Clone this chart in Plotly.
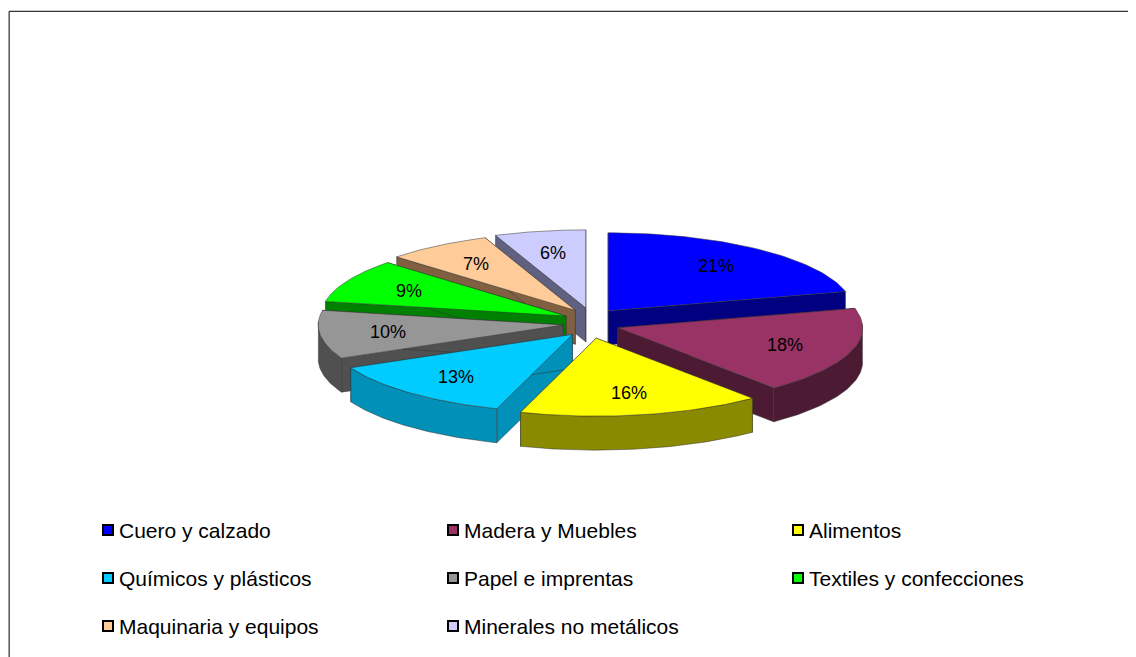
import numpy as np
import plotly.graph_objects as go

labels = ["Cuero y calzado", "Madera y Muebles", "Alimentos", "Químicos y plásticos",
          "Papel e imprentas", "Textiles y confecciones", "Maquinaria y equipos",
          "Minerales no metálicos"]
values = [21, 18, 16, 13, 10, 9, 7, 6]
colors = ["#0000FF", "#993366", "#FFFF00", "#00CCFF", "#969696", "#00FF00", "#FFCC99", "#CCCCFF"]
sides = ["#000080", "#4d1a33", "#8a8a00", "#0090b8", "#505050", "#008000", "#806040", "#606080"]

cx, cy, rx, ry, depth, pull = 583, 315, 245, 78, 34, 28

def pt(t, r=1.0, off=(0, 0)):
    return off[0] + cx + r * rx * np.sin(t), off[1] + cy - r * ry * np.cos(t)

total = sum(values)
slices = []
a = 0.0
for i, v in enumerate(values):
    a1 = a + 2 * np.pi * v / total
    mid = (a + a1) / 2
    off = (pull * np.sin(mid), -pull * 0.55 * np.cos(mid))
    slices.append((i, a, a1, mid, off))
    a = a1

fig = go.Figure()
order = sorted(slices, key=lambda s: -np.cos(s[3]))
for i, a0, a1, mid, off in order:
    t = np.linspace(a0, a1, 60)
    ox, oy = off
    c = (cx + ox, cy + oy)
    # radial faces
    for ang in (a0, a1):
        ex, ey = pt(ang, off=off)
        fig.add_trace(go.Scatter(x=[c[0], ex, ex, c[0], c[0]], y=[c[1], ey, ey + depth, c[1] + depth, c[1]],
                                 fill="toself", fillcolor=sides[i], mode="lines",
                                 line=dict(color="#333", width=0.5), showlegend=False, hoverinfo="skip"))
    # outer wall (front part)
    tw = t[np.cos(t) < 0.05]
    if len(tw) > 1:
        xs, ys = pt(tw, off=off)
        fig.add_trace(go.Scatter(x=list(xs) + list(xs[::-1]) + [xs[0]],
                                 y=list(ys) + list((ys + depth)[::-1]) + [ys[0]],
                                 fill="toself", fillcolor=sides[i], mode="lines",
                                 line=dict(color="#333", width=0.5), showlegend=False, hoverinfo="skip"))
    # top face
    xs, ys = pt(t, off=off)
    fig.add_trace(go.Scatter(x=[c[0]] + list(xs) + [c[0]], y=[c[1]] + list(ys) + [c[1]],
                             fill="toself", fillcolor=colors[i], mode="lines",
                             line=dict(color="#333", width=0.5), showlegend=False, hoverinfo="skip"))

for i, a0, a1, mid, off in slices:
    lx, ly = pt(mid, 0.72, off)
    fig.add_annotation(x=lx, y=ly, text=f"{values[i]}%", showarrow=False,
                       font=dict(size=18, color="black", family="Liberation Sans, Arial"))

# legend: 3 columns, drawn manually
lx0 = [100 + 345 * (k % 3) for k in range(len(labels))]
ly0 = [522 + 48 * (k // 3) for k in range(len(labels))]
fig.add_trace(go.Scatter(x=lx0, y=ly0, mode="markers", showlegend=False, hoverinfo="skip",
                         marker=dict(symbol="square", size=10, color=colors,
                                     line=dict(color="black", width=2))))
for k, lab in enumerate(labels):
    fig.add_annotation(x=lx0[k] + 9, y=ly0[k], text=lab, showarrow=False, xanchor="left",
                       font=dict(size=21, color="black", family="Liberation Sans, Arial"))

fig.add_shape(type="rect", xref="paper", yref="paper", x0=0.001, y0=-0.05, x1=0.992, y1=0.995,
              line=dict(color="black", width=1))
fig.update_layout(
    width=1136, height=657, margin=dict(l=0, r=0, t=0, b=0),
    paper_bgcolor="white", plot_bgcolor="white", showlegend=False,
    xaxis=dict(range=[0, 1136], visible=False, fixedrange=True),
    yaxis=dict(range=[657, 0], visible=False, fixedrange=True),
)
fig.write_html("out.html")
